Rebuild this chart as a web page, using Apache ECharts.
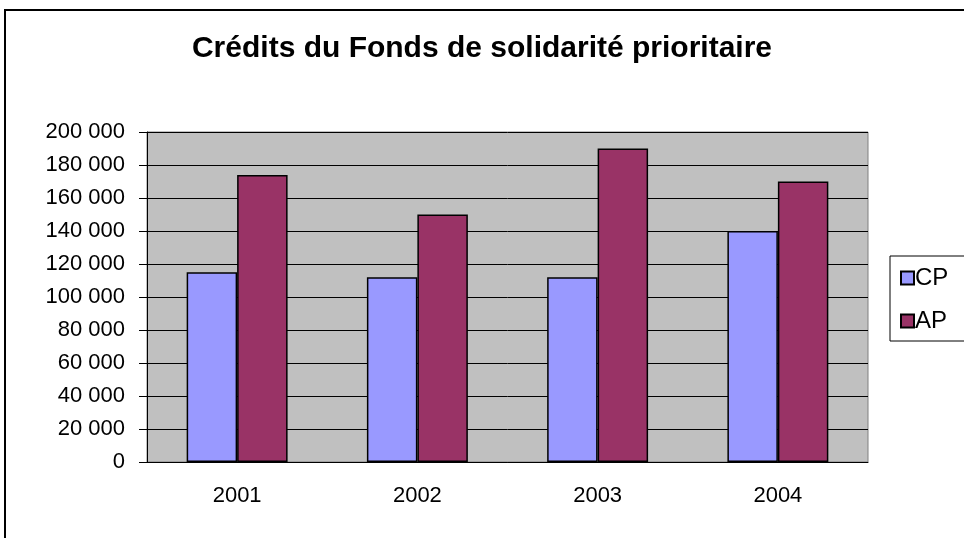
<!DOCTYPE html>
<html>
<head>
    <meta charset="UTF-8">
    <title>Crédits du Fonds de solidarité prioritaire</title>
    <script src="https://cdn.jsdelivr.net/npm/echarts@6/dist/echarts.min.js"></script>
    <style>
        html, body { margin: 0; padding: 0; background: #fff; }
        #chartContainer { width: 964px; height: 538px; }
    </style>
</head>
<body>
<div id="chartContainer"></div>
<script>
    // années et valeurs
    var years = ['2001', '2002', '2003', '2004'];
    var cpValues = [115000, 112000, 112000, 140000];
    var apValues = [174000, 150000, 190000, 170000];

    function formatNumber(v) {
        // séparateur de milliers : espace
        return String(v).replace(/\B(?=(\d{3})+(?!\d))/g, ' ');
    }

    var myChart = echarts.init(document.getElementById('chartContainer'));
    var option = {
        animation: false,
        textStyle: { fontFamily: 'Liberation Sans, Arial, sans-serif' },
        title: {
            text: 'Crédits du Fonds de solidarité prioritaire',
            left: 'center',
            top: 29,
            textStyle: { fontSize: 30, fontWeight: 'bold', color: '#000' }
        },
        graphic: [{
            type: 'rect',
            shape: { x: 5, y: 10, width: 1000, height: 600 },
            style: { fill: 'none', stroke: '#000', lineWidth: 2 },
            z: -1
        }],
        legend: {
            left: 890,
            top: 256,
            orient: 'vertical',
            icon: 'rect',
            itemWidth: 13,
            itemHeight: 13,
            itemGap: 19,
            padding: [10, 40, 8, 10],
            borderColor: '#000',
            borderWidth: 1,
            textStyle: { fontSize: 24, color: '#000', padding: [0, 0, 0, -4] },
            data: ['CP', 'AP']
        },
        grid: {
            left: 147,
            right: 96,
            top: 132,
            bottom: 76,
            show: true,
            backgroundColor: '#C0C0C0',
            borderColor: '#808080',
            borderWidth: 1
        },
        xAxis: {
            type: 'category',
            data: years,
            axisLine: { lineStyle: { color: '#000', width: 1 } },
            axisTick: { length: 7, lineStyle: { color: '#000' } },
            axisLabel: { fontSize: 22, color: '#000', margin: 23 }
        },
        yAxis: {
            type: 'value',
            min: 0,
            max: 200000,
            interval: 20000,
            axisLine: { show: true, lineStyle: { color: '#000', width: 1 } },
            axisTick: { show: true, length: 8, lineStyle: { color: '#000' } },
            splitLine: { lineStyle: { color: '#000', width: 1 } },
            axisLabel: {
                fontSize: 22,
                color: '#000',
                margin: 22,
                formatter: formatNumber
            }
        },
        series: [{
            name: 'CP',
            type: 'bar',
            data: cpValues,
            barWidth: '28%',
            barGap: '0%',
            itemStyle: { color: '#9999FF', borderColor: '#000', borderWidth: 1.5 }
        }, {
            name: 'AP',
            type: 'bar',
            data: apValues,
            barWidth: '28%',
            barGap: '0%',
            itemStyle: { color: '#993366', borderColor: '#000', borderWidth: 1.5 }
        }]
    };
    myChart.setOption(option);
</script>
</body>
</html>
